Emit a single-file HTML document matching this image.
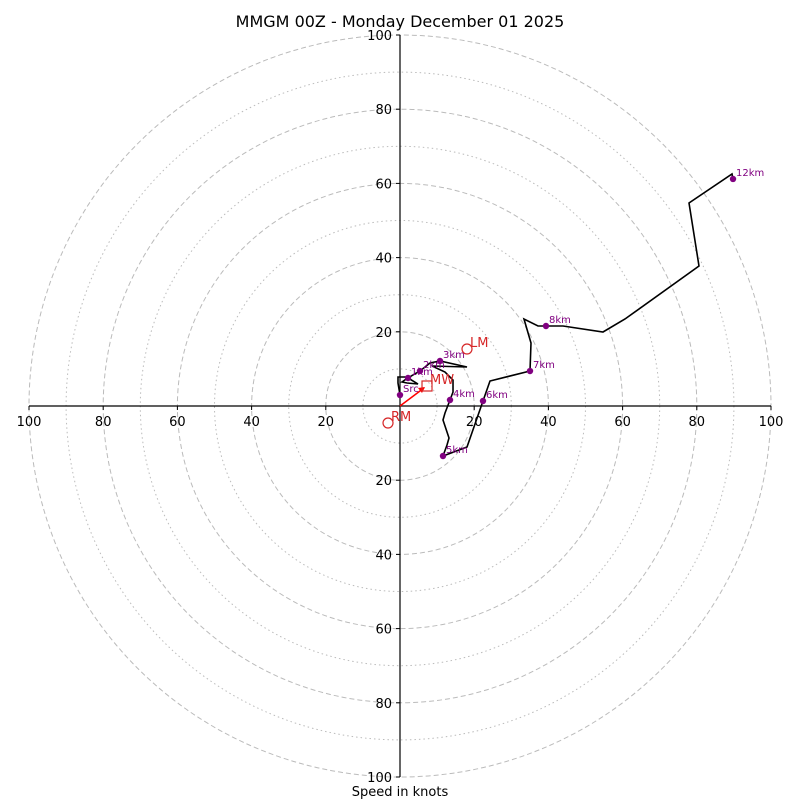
<!DOCTYPE html>
<html><head><meta charset="utf-8"><style>
body{margin:0;background:#fff}
svg text{font-family:"DejaVu Sans","Liberation Sans",sans-serif}
</style></head><body>
<svg id="chart" width="800" height="800" viewBox="0 0 800 800" xmlns="http://www.w3.org/2000/svg">
<rect width="800" height="800" fill="#fff"/>
<text x="400" y="27" text-anchor="middle" font-size="16">MMGM 00Z - Monday December 01 2025</text>
<text x="400" y="796" text-anchor="middle" font-size="13">Speed in knots</text>
<g id="rings"></g><g id="axes"></g><g id="series"></g><g id="marks"></g>
</svg>
<script>
const ringValues=[10,20,30,40,50,60,70,80,90,100];
const tickLabels=[20,40,60,80,100];
const windU=[0,-0.54,-0.54,2.43,0.54,1.89,4.85,2.16,3.5,5.39,8.09,10.78,18.06,8.63,12.13,14.29,14.29,13.48,12.13,11.59,13.21,12.67,11.59,18.06,22.37,24.26,35.04,35.31,33.42,37.2,39.35,43.94,54.72,60.65,80.59,77.9,89.49,89.76];
const windV=[2.96,6.2,7.82,7.82,6.47,6.2,5.93,7.55,8.36,9.43,11.59,12.13,10.51,10.78,9.16,7.0,3.77,1.62,-1.89,-3.77,-8.63,-10.51,-13.48,-11.05,1.35,6.74,9.43,16.98,23.45,21.56,21.56,21.56,19.95,23.45,37.74,54.72,62.53,61.19];
const heightLabels=["Src","1km","2km","3km","4km","5km","6km","7km","8km","12km"];
const heightU=[0,2.16,5.39,10.78,13.48,11.59,22.37,35.04,39.35,89.76];
const heightV=[2.96,7.55,9.43,12.13,1.62,-13.48,1.35,9.43,21.56,61.19];
const motionNames=["LM","RM","MW"];
const motionU=[18.06,-3.23,7.28];
const motionV=[15.36,-4.58,5.39];

const CX=400,CY=406,S=3.71;
const sx=u=>CX+u*S, sy=v=>CY-v*S;
const NS="http://www.w3.org/2000/svg";
function mk(tag,attrs,parent){const e=document.createElementNS(NS,tag);for(const k in attrs)e.setAttribute(k,attrs[k]);document.getElementById(parent).appendChild(e);return e;}

ringValues.forEach(r=>{
  const c=mk('circle',{cx:CX,cy:CY,r:r*S,fill:'none',stroke:'#bbb','stroke-width':1,'stroke-dasharray':r%20===0?'5,3':'1.5,3'},'rings');
  
  
});
const hx=mk('line',{x1:sx(-100),y1:CY,x2:sx(100),y2:CY,stroke:'#000','stroke-width':1.2},'axes');


const vy=mk('line',{x1:CX,y1:sy(100),x2:CX,y2:sy(-100),stroke:'#000','stroke-width':1.2},'axes');


tickLabels.forEach(t=>{
  [-1,1].forEach(s=>{
    mk('line',{x1:sx(s*t),y1:CY,x2:sx(s*t),y2:CY+4,stroke:'#000'},'axes');
    const tx=mk('text',{x:sx(s*t),y:CY+20,'text-anchor':'middle','font-size':13},'axes');
    tx.textContent=t;
    
    
    mk('line',{x1:CX-4,y1:sy(s*t),x2:CX,y2:sy(s*t),stroke:'#000'},'axes');
    const ty=mk('text',{x:CX-8,y:sy(s*t)+5,'text-anchor':'end','font-size':13},'axes');
    ty.textContent=t;
    
    
  });
});
const pts=windU.map((u,i)=>sx(u)+','+sy(windV[i])).join(' ');
const pl=mk('polyline',{points:pts,fill:'none',stroke:'#000','stroke-width':1.6,'stroke-linejoin':'miter'},'series');


heightLabels.forEach((l,i)=>{
  const c=mk('circle',{cx:sx(heightU[i]),cy:sy(heightV[i]),r:3.2,fill:'#800080'},'series');
  
  
  const t=mk('text',{x:sx(heightU[i])+3,y:sy(heightV[i])-3,'font-size':10,fill:'#800080'},'series');
  t.textContent=l;
  
  
});
const ar=mk('line',{x1:sx(0),y1:sy(0),x2:sx(motionU[2])-3,y2:sy(motionV[2])+2,stroke:'red','stroke-width':1.5},'marks');


const ah=mk('polygon',{points:`${sx(motionU[2])-2},${sy(motionV[2])+1} ${sx(motionU[2])-9},${sy(motionV[2])+2} ${sx(motionU[2])-5},${sy(motionV[2])+7}`,fill:'red'},'marks');


motionNames.forEach((n,i)=>{
  const x=sx(motionU[i]),y=sy(motionV[i]);
  let m;
  if(n==='MW') m=mk('rect',{x:x-5,y:y-5,width:10,height:10,fill:'none',stroke:'#d62728','stroke-width':1.2},'marks');
  else m=mk('circle',{cx:x,cy:y,r:5,fill:'none',stroke:'#d62728','stroke-width':1.2},'marks');
  
  
  const t=mk('text',{x:x+3,y:y-2,'font-size':13,fill:'#d62728'},'marks');
  t.textContent=n;
  
  
});
</script>
</body></html>
